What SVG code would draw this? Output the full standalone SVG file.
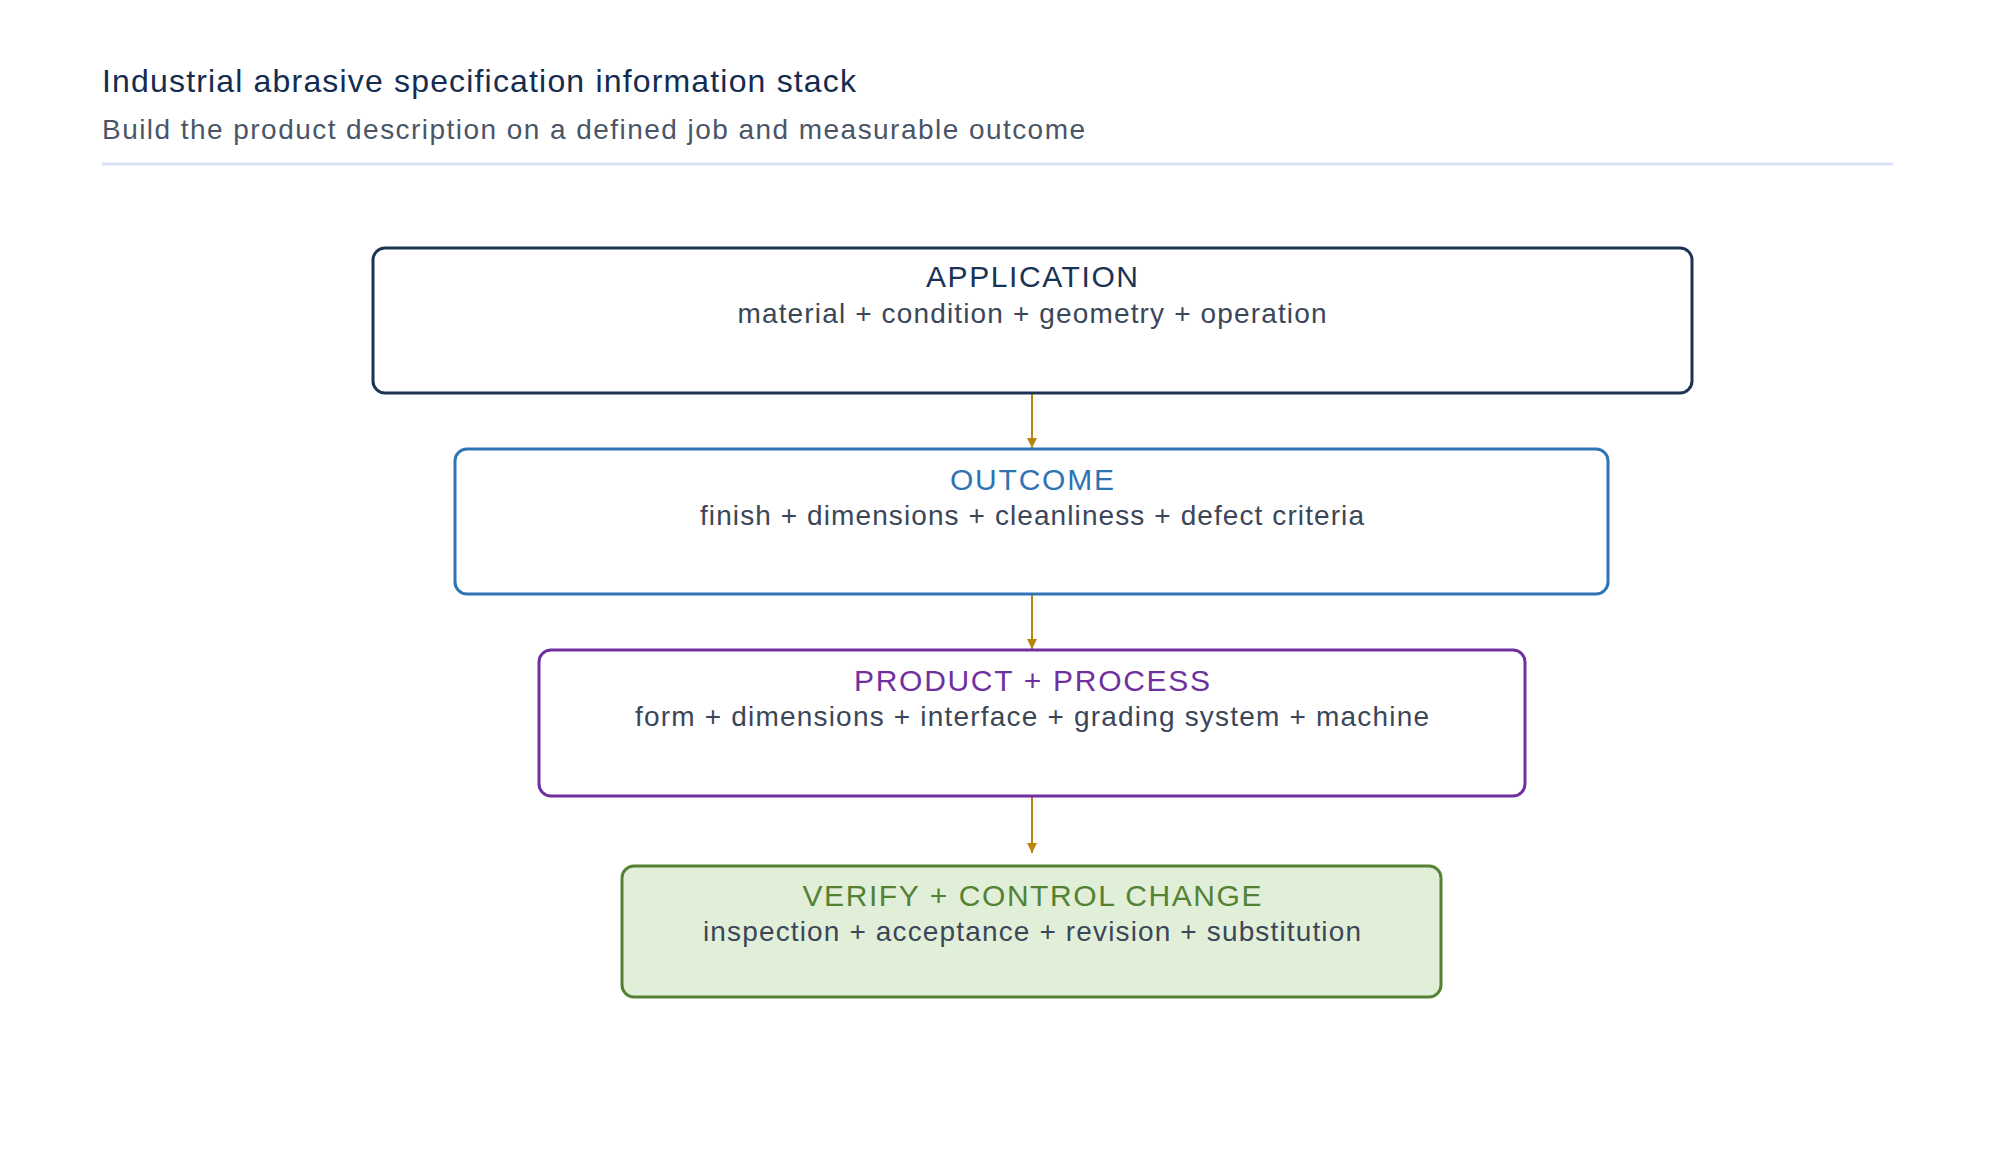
<svg xmlns="http://www.w3.org/2000/svg" width="1994" height="1161" viewBox="0 0 1994 1161">
<style>
text{font-family:"Liberation Sans",Arial,sans-serif}
.t{font-size:30px;text-anchor:middle}
.s{font-size:28px;text-anchor:middle;fill:#3b4758}
.box{stroke-width:3}
.c{stroke:#b8860b;stroke-width:2;fill:none}
</style>
<defs><marker id="a" viewBox="0 0 10 10" refX="10" refY="5" markerWidth="5" markerHeight="5" orient="auto"><path d="M0,0L10,5L0,10z" fill="#b8860b"/></marker></defs>
<rect width="1994" height="1161" fill="#fff"/>
<text x="102" y="92" font-size="32" fill="#142c4f" textLength="754" lengthAdjust="spacing">Industrial abrasive specification information stack</text>
<text x="102" y="139" font-size="28" fill="#4a5668" textLength="983" lengthAdjust="spacing">Build the product description on a defined job and measurable outcome</text>
<line x1="102" y1="164" x2="1893" y2="164" stroke="#dbe2f5" stroke-width="3"/>
<g id="connectors">
<line class="c" x1="1032" y1="394" x2="1032" y2="448" marker-end="url(#a)"/>
<line class="c" x1="1032" y1="595" x2="1032" y2="649" marker-end="url(#a)"/>
<line class="c" x1="1032" y1="797" x2="1032" y2="853" marker-end="url(#a)"/>
</g>
<g id="application"><rect class="box" x="373" y="248" width="1319" height="145" rx="12" fill="#fff" stroke="#1b3354"/>
<text class="t" x="1032" y="287" fill="#1b3354" textLength="212" lengthAdjust="spacing">APPLICATION</text><text class="s" x="1032" y="323" textLength="589" lengthAdjust="spacing">material + condition + geometry + operation</text></g>
<g id="outcome"><rect class="box" x="455" y="449" width="1153" height="145" rx="12" fill="#fff" stroke="#2f73b5"/>
<text class="t" x="1032" y="490" fill="#2f73b5" textLength="164" lengthAdjust="spacing">OUTCOME</text><text class="s" x="1032" y="525" textLength="664" lengthAdjust="spacing">finish + dimensions + cleanliness + defect criteria</text></g>
<g id="product"><rect class="box" x="539" y="650" width="986" height="146" rx="12" fill="#fff" stroke="#7030a0"/>
<text class="t" x="1032" y="691" fill="#7030a0" textLength="356" lengthAdjust="spacing">PRODUCT + PROCESS</text><text class="s" x="1032" y="726" textLength="794" lengthAdjust="spacing">form + dimensions + interface + grading system + machine</text></g>
<g id="verify"><rect class="box" x="622" y="866" width="819" height="131" rx="12" fill="#e1efd9" stroke="#548235"/>
<text class="t" x="1032" y="906" fill="#548235" textLength="459" lengthAdjust="spacing">VERIFY + CONTROL CHANGE</text><text class="s" x="1032" y="941" textLength="658" lengthAdjust="spacing">inspection + acceptance + revision + substitution</text></g>
</svg>
